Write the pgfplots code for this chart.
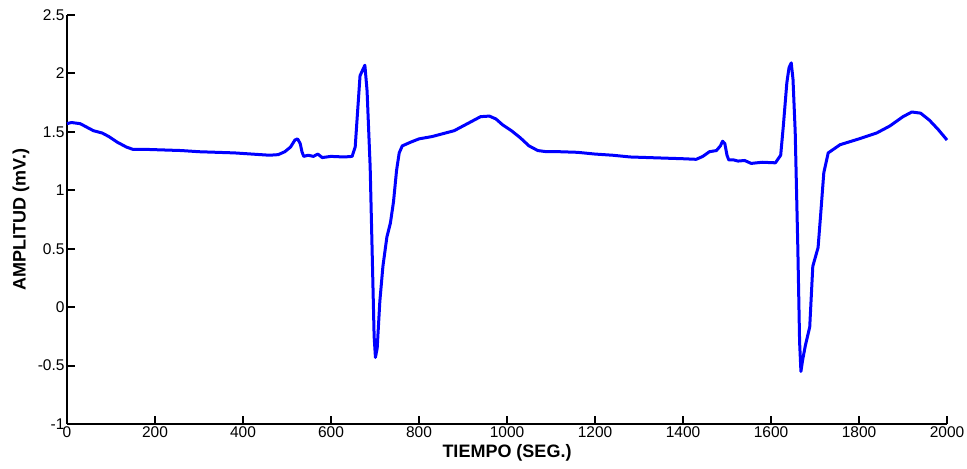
\documentclass[border=0pt]{standalone}
\usepackage{fontspec}
\setmainfont{Liberation Sans}
\usepackage{pgfplots}
\pgfplotsset{compat=1.18}
\begin{document}
\begin{tikzpicture}
\useasboundingbox (-67bp,-45bp) rectangle (900bp,424bp);
\begin{axis}[
  at={(0,0)}, anchor=south west,
  scale only axis, width=880bp, height=409bp,
  xmin=0, xmax=2000, ymin=-1, ymax=2.5,
  axis lines=left, axis line style={-, line width=2bp},
  tick align=inside, major tick length=8bp,
  every tick/.style={black, line width=2bp},
  xtick={0,200,...,2000}, ytick={-1,-0.5,...,2.5},
  /pgf/number format/set thousands separator={},
  /pgf/number format/assume math mode=true,
  ticklabel style={font=\fontsize{15.5bp}{17bp}\selectfont},
  xticklabel style={yshift=1bp},
  yticklabel style={xshift=1bp},
  xlabel={\textbf{TIEMPO (SEG.)}},
  ylabel={\textbf{AMPLITUD (mV.)}},
  label style={font=\fontsize{18bp}{20bp}\selectfont},
  xlabel style={at={(axis description cs:0.5,0)}, anchor=north, yshift=-17bp},
  ylabel style={at={(axis description cs:0,0.5)}, anchor=south, yshift=34bp},
  clip=false,
]
\addplot[color={rgb,255:red,0;green,0;blue,255}, line width=3bp, line join=round] coordinates {
(0,1.57) (10,1.58) (30,1.57) (45,1.54) (60,1.51) (80,1.49) (95,1.46) (115,1.41) (135,1.37) (150,1.35) (180,1.35) (220,1.345) (260,1.34) (300,1.33) (340,1.325) (380,1.32) (420,1.31) (460,1.30) (480,1.305) (495,1.33) (508,1.37) (518,1.43) (524,1.44) (530,1.40) (534,1.33) (538,1.29) (548,1.30) (560,1.29) (570,1.31) (580,1.28) (600,1.29) (630,1.285) (648,1.29) (655,1.37) (660,1.65) (666,1.98) (672,2.03) (677,2.07) (682,1.85) (689,1.2) (694,0.4) (698,-0.25) (701,-0.43) (705,-0.35) (711,0.05) (718,0.35) (727,0.6) (735,0.72) (742,0.9) (749,1.17) (755,1.32) (762,1.38) (780,1.41) (800,1.44) (830,1.46) (860,1.49) (880,1.51) (910,1.57) (940,1.63) (960,1.635) (975,1.61) (990,1.56) (1010,1.51) (1030,1.45) (1050,1.38) (1070,1.34) (1090,1.33) (1120,1.33) (1160,1.325) (1200,1.31) (1240,1.30) (1280,1.285) (1320,1.28) (1360,1.275) (1400,1.27) (1430,1.265) (1445,1.29) (1460,1.33) (1476,1.34) (1485,1.38) (1490,1.42) (1495,1.40) (1500,1.30) (1504,1.26) (1515,1.26) (1525,1.25) (1540,1.255) (1555,1.23) (1580,1.24) (1610,1.235) (1622,1.30) (1628,1.55) (1636,1.92) (1641,2.05) (1646,2.09) (1650,1.95) (1655,1.5) (1661,0.5) (1665,-0.3) (1668,-0.55) (1672,-0.45) (1678,-0.33) (1688,-0.17) (1695,0.35) (1707,0.51) (1713,0.8) (1720,1.15) (1730,1.32) (1757,1.39) (1800,1.44) (1840,1.49) (1870,1.55) (1900,1.63) (1920,1.67) (1940,1.66) (1960,1.60) (1980,1.52) (2000,1.43)
};
\end{axis}
\end{tikzpicture}
\end{document}
